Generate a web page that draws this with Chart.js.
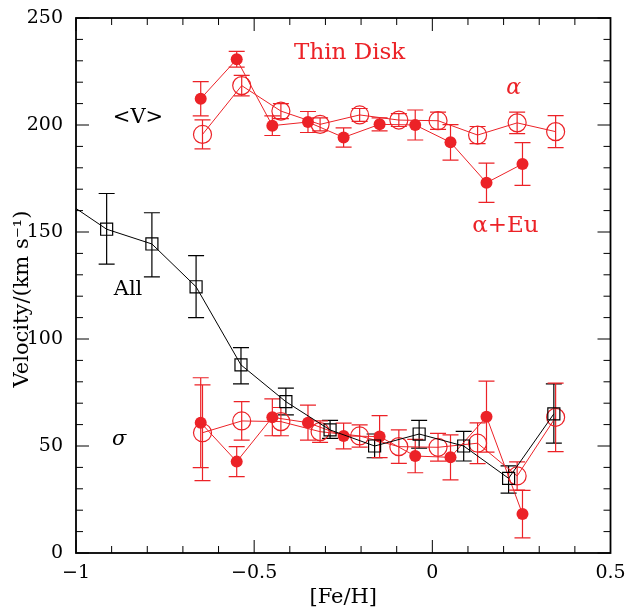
<!DOCTYPE html>
<html>
<head>
<meta charset="utf-8">
<script src="https://cdn.jsdelivr.net/npm/chart.js@4/dist/chart.umd.min.js"></script>
<style>
  html, body { margin: 0; padding: 0; background: #fff; }
  #wrap { width: 630px; height: 610px; }
</style>
</head>
<body>
<div id="wrap"><canvas id="velChart"></canvas></div>
<script>
// [Fe/H] bins and velocities
const feAll   = [-1.0, -0.914, -0.787, -0.663, -0.537, -0.411, -0.287, -0.162, -0.037, 0.088, 0.214, 0.341];
const velAll  = [161, 151.3, 144.4, 124.4, 87.9, 70.7, 57.5, 50, 55.6, 50, 34.9, 65];
const allHi   = [null, 168, 159, 139, 96, 77, 62, 55.6, 62, 56.8, 40.7, 79];
const allLo   = [null, 135, 129, 110, 79, 64.5, 53.6, 44.5, 49, 43, 28, 51.3];

const feAlpha   = [-0.645, -0.535, -0.425, -0.315, -0.204, -0.094, 0.016, 0.127, 0.238, 0.346];
const vAlpha    = [195.6, 218.4, 206.5, 200.3, 204.7, 202.3, 202, 195.3, 201, 196.9];
const vAlphaErr = [6.8, 4.8, 3.5, 3, 3, 3, 4, 4, 5, 7.5];
const sAlpha    = [56.2, 61.7, 61.4, 56.7, 54.7, 49.7, 49.4, 51.3, 36, 63.4];
const sAlphaErr = [22.4, 9, 6.6, 5, 5.2, 7.8, 6.5, 9.5, 6.6, 16];

const feEu    = [-0.650, -0.549, -0.449, -0.349, -0.249, -0.148, -0.048, 0.051, 0.152, 0.253];
const vEu     = [212.3, 230.7, 199.7, 201.4, 194.2, 200.3, 200, 191.9, 173, 181.8];
const vEuErr  = [8, 3.7, 4.6, 4.9, 4.5, 3, 7, 8.3, 9.2, 10];
const sEu     = [60.9, 42.7, 63.4, 60.9, 54.7, 54.4, 45.3, 44.7, 63.7, 18.2];
const sEuErr  = [21, 7, 8.6, 8.2, 6, 9.8, 7.8, 10.5, 16.6, 11.1];

const RED = '#ec2227';
const SERIF = "'DejaVu Serif', serif";

function pts(xs, ys) {
    return xs.map((x, i) => ({ x: x, y: ys[i] }));
}
function symHi(ys, es) { return ys.map((y, i) => y + es[i]); }
function symLo(ys, es) { return ys.map((y, i) => y - es[i]); }

// vertical error bars with caps
const errorBars = {
    id: 'errorBars',
    beforeDatasetsDraw(chart) {
        const ctx = chart.ctx, xs = chart.scales.x, ys = chart.scales.y;
        chart.data.datasets.forEach(ds => {
            if (!ds.errHi) return;
            ctx.save();
            ctx.strokeStyle = ds.borderColor;
            ctx.lineWidth = 1.2;
            ds.data.forEach((p, i) => {
                if (ds.errHi[i] == null) return;
                const px = xs.getPixelForValue(p.x);
                const top = ys.getPixelForValue(ds.errHi[i]);
                const bot = ys.getPixelForValue(ds.errLo[i]);
                const cap = 8;
                ctx.beginPath();
                ctx.moveTo(px, top); ctx.lineTo(px, bot);
                ctx.moveTo(px - cap, top); ctx.lineTo(px + cap, top);
                ctx.moveTo(px - cap, bot); ctx.lineTo(px + cap, bot);
                ctx.stroke();
            });
            ctx.restore();
        });
    }
};

// box frame with inward ticks on all sides, plus text labels
const frameTicks = {
    id: 'frameTicks',
    afterDatasetsDraw(chart) {
        const ctx = chart.ctx, xs = chart.scales.x, ys = chart.scales.y;
        const a = chart.chartArea;
        ctx.save();
        ctx.strokeStyle = '#000';
        ctx.lineWidth = 1.8;
        ctx.strokeRect(a.left, a.top, a.right - a.left, a.bottom - a.top);
        ctx.lineWidth = 1;
        ctx.beginPath();
        for (let k = -10; k <= 5; k++) {
            const v = k / 10;
            const px = xs.getPixelForValue(v);
            const len = (k % 5 === 0) ? 13 : 7;
            ctx.moveTo(px, a.bottom); ctx.lineTo(px, a.bottom - len);
            ctx.moveTo(px, a.top); ctx.lineTo(px, a.top + len);
        }
        for (let v = 0; v <= 250; v += 10) {
            const py = ys.getPixelForValue(v);
            const len = (v % 50 === 0) ? 13 : 7;
            ctx.moveTo(a.left, py); ctx.lineTo(a.left + len, py);
            ctx.moveTo(a.right, py); ctx.lineTo(a.right - len, py);
        }
        ctx.stroke();

        const labels = [
            { t: 'Thin Disk', x: -0.232, y: 233.6, c: RED, f: '23px ' + SERIF },
            { t: 'α', x: 0.228, y: 217, c: RED, f: 'italic 22px ' + SERIF },
            { t: '<V>', x: -0.826, y: 203.7, c: '#000', f: '21px ' + SERIF },
            { t: 'α+Eu', x: 0.205, y: 152.8, c: RED, f: '23px ' + SERIF },
            { t: 'All', x: -0.854, y: 122.9, c: '#000', f: '21px ' + SERIF },
            { t: 'σ', x: -0.879, y: 52.8, c: '#000', f: 'italic 21px ' + SERIF }
        ];
        ctx.textAlign = 'center';
        ctx.textBaseline = 'middle';
        labels.forEach(l => {
            ctx.fillStyle = l.c;
            ctx.font = l.f;
            ctx.fillText(l.t, xs.getPixelForValue(l.x), ys.getPixelForValue(l.y));
        });

        // y axis title
        ctx.translate(23, 299);
        ctx.rotate(-Math.PI / 2);
        ctx.fillStyle = '#000';
        ctx.font = '21px ' + SERIF;
        ctx.fillText('Velocity/(km s\u207B\u00B9)', 0, 0);
        ctx.restore();
    }
};

const ctx = document.getElementById('velChart').getContext('2d');

new Chart(ctx, {
    type: 'scatter',
    data: {
        datasets: [
            {
                label: 'All',
                data: pts(feAll, velAll),
                errHi: allHi, errLo: allLo,
                showLine: true,
                borderColor: '#000',
                borderWidth: 1,
                pointStyle: 'rect',
                pointRadius: feAll.map((x, i) => i === 0 ? 0 : 8.5),
                pointBorderWidth: 1.2,
                pointBorderColor: '#000',
                pointBackgroundColor: 'rgba(0,0,0,0)'
            },
            {
                label: 'alpha <V>',
                data: pts(feAlpha, vAlpha),
                errHi: symHi(vAlpha, vAlphaErr), errLo: symLo(vAlpha, vAlphaErr),
                showLine: true,
                borderColor: RED,
                borderWidth: 1,
                pointRadius: 9,
                pointBorderWidth: 1.2,
                pointBorderColor: RED,
                pointBackgroundColor: 'rgba(0,0,0,0)'
            },
            {
                label: 'alpha sigma',
                data: pts(feAlpha, sAlpha),
                errHi: symHi(sAlpha, sAlphaErr), errLo: symLo(sAlpha, sAlphaErr),
                showLine: true,
                borderColor: RED,
                borderWidth: 1,
                pointRadius: 9,
                pointBorderWidth: 1.2,
                pointBorderColor: RED,
                pointBackgroundColor: 'rgba(0,0,0,0)'
            },
            {
                label: 'alpha+Eu <V>',
                data: pts(feEu, vEu),
                errHi: symHi(vEu, vEuErr), errLo: symLo(vEu, vEuErr),
                showLine: true,
                borderColor: RED,
                borderWidth: 1,
                pointRadius: 6,
                pointBorderWidth: 0,
                pointBackgroundColor: RED
            },
            {
                label: 'alpha+Eu sigma',
                data: pts(feEu, sEu),
                errHi: symHi(sEu, sEuErr), errLo: symLo(sEu, sEuErr),
                showLine: true,
                borderColor: RED,
                borderWidth: 1,
                pointRadius: 6,
                pointBorderWidth: 0,
                pointBackgroundColor: RED
            }
        ]
    },
    options: {
        responsive: true,
        maintainAspectRatio: false,
        animation: false,
        layout: { padding: { top: 18, right: 19.5, left: 0, bottom: 0 } },
        plugins: { legend: { display: false }, tooltip: { enabled: false } },
        scales: {
            x: {
                type: 'linear',
                min: -1, max: 0.5,
                grid: { display: false, drawTicks: false },
                border: { display: false },
                ticks: {
                    stepSize: 0.5,
                    padding: 9,
                    color: '#000',
                    font: { family: SERIF, size: 19 },
                    callback: v => String(v).replace('-', '\u2212')
                },
                title: {
                    display: true,
                    text: '[Fe/H]',
                    color: '#000',
                    font: { family: SERIF, size: 21 },
                    padding: { top: 0, bottom: 0 }
                },
                afterFit: s => { s.height = 57; s.paddingLeft = 0; s.paddingRight = 0; }
            },
            y: {
                min: 0, max: 250,
                grid: { display: false, drawTicks: false },
                border: { display: false },
                ticks: {
                    stepSize: 50,
                    padding: 13,
                    color: '#000',
                    font: { family: SERIF, size: 19 }
                },
                afterFit: s => { s.width = 76; s.paddingTop = 0; s.paddingBottom = 0; }
            }
        }
    },
    plugins: [errorBars, frameTicks]
});
</script>
</body>
</html>
